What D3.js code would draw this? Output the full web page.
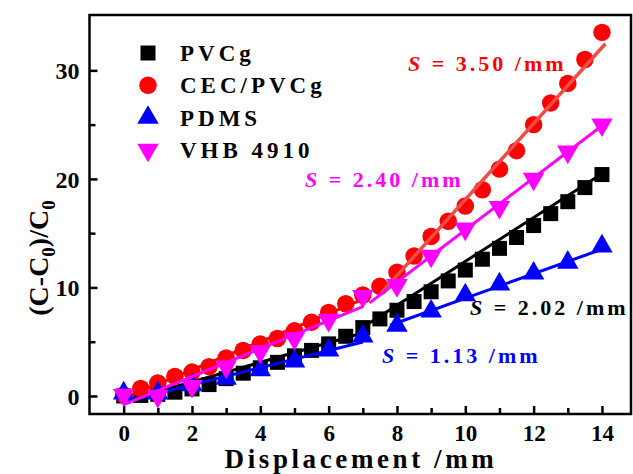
<!DOCTYPE html>
<html>
<head>
<meta charset="utf-8">
<script src="https://cdn.jsdelivr.net/npm/d3@7"></script>
<style>
  body { margin: 0; background: #fff; }
  svg text { font-family: "Liberation Serif", "Times New Roman", serif; font-weight: bold; }
</style>
</head>
<body>
<svg id="chart" width="633" height="474"></svg>
<script>
// x positions (mm)
const dispHalf = [0, 0.5, 1, 1.5, 2, 2.5, 3, 3.5, 4, 4.5, 5, 5.5, 6, 6.5, 7,
  7.5, 8, 8.5, 9, 9.5, 10, 10.5, 11, 11.5, 12, 12.5, 13, 13.5, 14];
const dispWhole = [0, 1, 2, 3, 4, 5, 6, 7, 8, 9, 10, 11, 12, 13, 14];

// (C-C0)/C0 values
const pvcg = [0, 0.05, 0.15, 0.35, 0.65, 1.05, 1.6, 2.1, 2.6, 3.1, 3.7, 4.2, 4.8, 5.5, 6.3,
  7.1, 7.9, 8.7, 9.6, 10.6, 11.6, 12.6, 13.6, 14.6, 15.7, 16.8, 17.9, 19.2, 20.4];
const cecPvcg = [0.1, 0.7, 1.2, 1.8, 2.2, 2.7, 3.5, 4.2, 4.8, 5.3, 6.0, 6.8, 7.7, 8.5, 9.3,
  10.1, 11.4, 12.9, 14.7, 16.1, 17.5, 19.0, 20.9, 22.6, 25.0, 27.0, 28.8, 31.0, 33.5];
const pdms = [0.25, 0.25, 1.0, 1.6, 2.4, 3.2, 4.2, 5.5, 6.5, 7.8, 9.3, 10.3, 11.3, 12.3, 13.8];
const vhb = [0.1, 0, 0.9, 2.7, 4.1, 5.3, 7.0, 9.2, 10.2, 12.9, 15.4, 17.4, 20.0, 22.5, 25.0];

// linear fits: [from, to, slope, intercept]
const pvcgFit = [[0, 7, 0.9, -0.5], [7, 14, 2.02, -7.8]];
const cecFit = [[0, 7, 1.3, -0.2], [7.5, 14.1, 3.50, -16.9]];
const pdmsFit = [[0, 7, 0.79, -0.55], [7.8, 14, 1.13, -2.3]];
const vhbFit = [[0, 7, 1.29, -0.8], [7.2, 14, 2.40, -8.7]];

const xTicks = [0, 2, 4, 6, 8, 10, 12, 14];
const xMinor = [1, 3, 5, 7, 9, 11, 13];
const yTicks = [0, 10, 20, 30];
const yMinor = [5, 15, 25];

const FONT = '"Liberation Serif", "Times New Roman", serif';
const svg = d3.select('#chart');
const plotLeft = 89.5, plotRight = 631, plotTop = 15, plotBottom = 414;

const x = d3.scaleLinear().domain([-1, 14.85]).range([plotLeft, plotRight]);
const y = d3.scaleLinear().domain([-1.66, 35.1]).range([plotBottom, plotTop]);

// frame
svg.append('rect')
  .attr('x', plotLeft).attr('y', plotTop)
  .attr('width', plotRight - plotLeft).attr('height', plotBottom - plotTop)
  .attr('fill', 'none').attr('stroke', '#000').attr('stroke-width', 2.5);

// axes with inward ticks
const xAxis = svg.append('g').attr('transform', `translate(0,${plotBottom})`)
  .call(d3.axisBottom(x).tickValues(xTicks).tickSize(-8).tickPadding(11).tickFormat(d3.format('d')));
svg.append('g').attr('transform', `translate(0,${plotBottom})`)
  .call(d3.axisBottom(x).tickValues(xMinor).tickSize(-6).tickFormat(''));
const yAxis = svg.append('g').attr('transform', `translate(${plotLeft},0)`)
  .call(d3.axisLeft(y).tickValues(yTicks).tickSize(-8).tickPadding(10).tickFormat(d3.format('d')));
svg.append('g').attr('transform', `translate(${plotLeft},0)`)
  .call(d3.axisLeft(y).tickValues(yMinor).tickSize(-6).tickFormat(''));

svg.selectAll('.domain').remove();
svg.selectAll('.tick line').attr('stroke', '#000').attr('stroke-width', 2.5);
svg.selectAll('g').attr('font-family', FONT);
xAxis.selectAll('text').attr('font-size', 23).attr('fill', '#000');
yAxis.selectAll('text').attr('font-size', 24).attr('fill', '#000').attr('dy', '0.34em');

// axis titles
svg.append('text')
  .attr('x', 361).attr('y', 468).attr('font-family', FONT)
  .attr('text-anchor', 'middle').attr('font-size', 27).attr('letter-spacing', 3.6)
  .text('Displacement /mm');

const yTitle = svg.append('text')
  .attr('transform', 'translate(48,258) rotate(-90)').attr('font-family', FONT)
  .attr('text-anchor', 'middle').attr('font-size', 28);
yTitle.append('tspan').text('(C-C');
yTitle.append('tspan').attr('font-size', 19).attr('dy', 7).text('0');
yTitle.append('tspan').attr('dy', -7).text(')/C');
yTitle.append('tspan').attr('font-size', 19).attr('dy', 7).text('0');

const plot = svg.append('g');

function drawFit(fits, color, width) {
  fits.forEach(([a, b, m, c]) => {
    plot.append('line')
      .attr('x1', x(a)).attr('y1', y(m * a + c))
      .attr('x2', x(b)).attr('y2', y(m * b + c))
      .attr('stroke', color).attr('stroke-width', width);
  });
}

const sq = d3.symbol().type(d3.symbolSquare).size(225);
const circ = d3.symbol().type(d3.symbolCircle).size(240);
const tri = d3.symbol().type(d3.symbolTriangle).size(200);

function drawPoints(xs, ys, sym, color, rot) {
  plot.append('g').selectAll('path')
    .data(xs.map((d, i) => [d, ys[i]]))
    .join('path')
    .attr('d', sym)
    .attr('transform', d => `translate(${x(d[0])},${y(d[1])}) rotate(${rot})`)
    .attr('fill', color);
}

drawFit(pvcgFit, '#000', 3);
drawPoints(dispHalf, pvcg, sq, '#000', 0);
drawFit(cecFit.slice(0, 1), '#ff0000', 3);
drawPoints(dispHalf, cecPvcg, circ, '#ff0000', 0);
drawFit(cecFit.slice(1), '#ee4d45', 3.5);
drawPoints(dispWhole, pdms, tri, '#0000ff', 0);
drawFit(pdmsFit, '#0000ff', 3);
drawPoints(dispWhole, vhb, tri, '#ff00ff', 180);
drawFit(vhbFit, '#ff00ff', 3);

// legend
const legendNames = ['PVCg', 'CEC/PVCg', 'PDMS', 'VHB 4910'];
const legendSyms = [[sq, '#000', 0], [circ, '#ff0000', 0], [tri, '#0000ff', 0], [tri, '#ff00ff', 180]];
const legend = svg.append('g');
legendNames.forEach((name, i) => {
  const cy = 53 + i * 32.3;
  const [s, c, r] = legendSyms[i];
  legend.append('path').attr('d', s).attr('fill', c)
    .attr('transform', `translate(148,${cy}) rotate(${r})`);
  legend.append('text').attr('x', 180).attr('y', cy + 8).attr('font-family', FONT)
    .attr('font-size', 23).attr('letter-spacing', 4).text(name);
});

// slope annotations
const notes = [
  ['3.50', '#ff0000', 408, 71],
  ['2.40', '#ff00ff', 305, 187],
  ['2.02', '#000', 470, 315],
  ['1.13', '#0000ff', 382, 363]
];
notes.forEach(([v, c, nx, ny]) => {
  const t = svg.append('text').attr('x', nx).attr('y', ny).attr('font-family', FONT)
    .attr('font-size', 22).attr('letter-spacing', 3).attr('fill', c);
  t.append('tspan').attr('font-style', 'italic').text('S');
  t.append('tspan').text(` = ${v} /mm`);
});
</script>
</body>
</html>
